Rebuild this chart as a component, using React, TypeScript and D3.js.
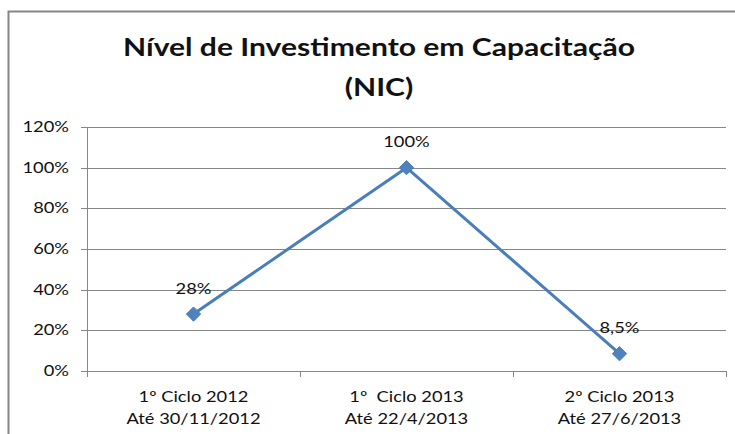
import React, { useEffect, useRef } from 'react';
import * as d3 from 'd3';

const cycleLabels = ['1º Ciclo 2012', '1º  Ciclo 2013', '2º Ciclo 2013'];
const dateLabels = ['Até 30/11/2012', 'Até 22/4/2013', 'Até 27/6/2013'];
const values = [0.28, 1.0, 0.085];
const valueLabels = ['28%', '100%', '8,5%'];
const yTicks = [0, 0.2, 0.4, 0.6, 0.8, 1.0, 1.2];
const titleLines = ['Nível de Investimento em Capacitação', '(NIC)'];

const W = 735;
const H = 434;
const FONT = 'Lato, "Open Sans", sans-serif';
const GRID = '#868686';
const BLUE = '#4a7ebb';

const App = () => {
  const svgRef = useRef<SVGSVGElement>(null);

  useEffect(() => {
    const svg = d3.select(svgRef.current);
    svg.selectAll('*').remove();

    const margin = { top: 127, right: 9, bottom: 63, left: 87 };

    const x = d3.scaleBand<string>()
      .domain(cycleLabels)
      .range([margin.left, W - margin.right])
      .padding(0);

    const y = d3.scaleLinear()
      .domain([0, 1.2])
      .range([H - margin.bottom, margin.top]);

    // outer chart border (only top/left visible)
    svg.append('rect')
      .attr('x', 8.5)
      .attr('y', 11.5)
      .attr('width', 800)
      .attr('height', 600)
      .attr('fill', 'none')
      .attr('stroke', GRID)
      .attr('stroke-width', 2);

    // stretched text helper (reference is horizontally widened)
    const label = (g: any, tx: number, ty: number, text: string, size: number, sx: number, weight = 'normal', anchor = 'middle') =>
      g.append('text')
        .attr('transform', `translate(${tx},${ty}) scale(${sx},1)`)
        .attr('text-anchor', anchor)
        .style('font-family', FONT)
        .style('font-size', `${size}px`)
        .style('font-weight', weight)
        .style('white-space', 'pre')
        .attr('fill', '#111')
        .text(text);

    // title
    titleLines.forEach((t, i) => {
      label(svg, 379, 56 + i * 40, t, 25.5, 1.18, 'bold');
    });

    // gridlines + y ticks
    const grid = svg.append('g');
    yTicks.forEach(t => {
      grid.append('line')
        .attr('x1', margin.left - 6)
        .attr('x2', W - margin.right)
        .attr('y1', Math.round(y(t)) + 0.5)
        .attr('y2', Math.round(y(t)) + 0.5)
        .attr('stroke', GRID)
        .attr('stroke-width', 1);
      label(grid, margin.left - 18, y(t) + 5, d3.format('.0%')(t), 15, 1.22, 'normal', 'end');
    });

    // y axis
    svg.append('line')
      .attr('x1', margin.left + 0.5)
      .attr('x2', margin.left + 0.5)
      .attr('y1', y(1.2))
      .attr('y2', y(0))
      .attr('stroke', GRID);

    // x ticks at band edges
    const edges = [...cycleLabels.map(c => x(c) as number), W - margin.right];
    edges.forEach(e => {
      svg.append('line')
        .attr('x1', Math.round(e) + 0.5)
        .attr('x2', Math.round(e) + 0.5)
        .attr('y1', y(0))
        .attr('y2', y(0) + 6)
        .attr('stroke', GRID);
    });

    // x labels
    cycleLabels.forEach((c, i) => {
      const cx = (x(c) as number) + x.bandwidth() / 2;
      label(svg, cx, y(0) + 31, c, 15, 1.22);
      label(svg, cx, y(0) + 53, dateLabels[i], 15, 1.22);
    });

    // line + markers
    const pts = cycleLabels.map((c, i) => [(x(c) as number) + x.bandwidth() / 2, y(values[i])] as [number, number]);

    svg.append('path')
      .attr('d', d3.line()(pts))
      .attr('fill', 'none')
      .attr('stroke', BLUE)
      .attr('stroke-width', 3)
      .attr('stroke-linejoin', 'round');

    svg.selectAll('.marker')
      .data(pts)
      .join('path')
      .attr('class', 'marker')
      .attr('d', d3.symbol(d3.symbolDiamond2, 130)())
      .attr('transform', d => `translate(${d[0]},${d[1]})`)
      .attr('fill', '#4f81bd')
      .attr('stroke', BLUE)
      .attr('stroke-width', 1);

    // data labels
    pts.forEach((p, i) => {
      label(svg, p[0], p[1] - 20.5, valueLabels[i], 15, 1.22);
    });
  }, []);

  return (
    <svg
      ref={svgRef}
      width={W}
      height={H}
      style={{ position: 'absolute', left: 0, top: 0, background: '#fff' }}
    />
  );
};

export default App;
